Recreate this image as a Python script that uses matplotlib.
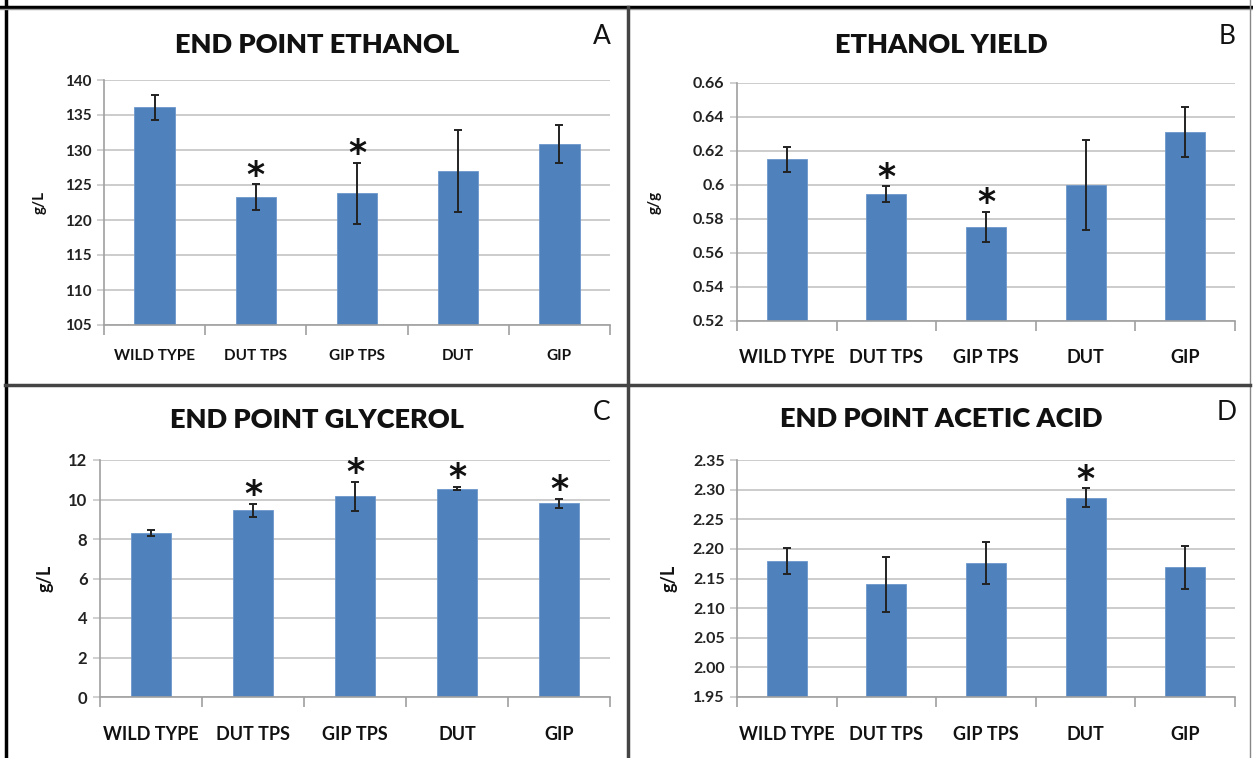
#!/usr/bin/env python3
"""Four-panel fermentation end point bar charts (ethanol, yield, glycerol, acetic acid)."""
import numpy as np
import matplotlib
matplotlib.use('Agg')
import matplotlib.pyplot as plt
from matplotlib.lines import Line2D

plt.rcParams['font.family'] = ['Lato', 'DejaVu Sans']

strains = ['WILD TYPE', 'DUT TPS', 'GIP TPS', 'DUT', 'GIP']

ethanol = [136.1, 123.3, 123.8, 127.0, 130.9]
ethanol_err = [1.8, 1.8, 4.4, 5.8, 2.7]
ethanol_sig = [False, True, True, False, False]

yield_gg = [0.615, 0.5945, 0.5755, 0.600, 0.631]
yield_err = [0.0072, 0.0047, 0.0089, 0.0262, 0.0147]
yield_sig = [False, True, True, False, False]

glycerol = [8.32, 9.46, 10.16, 10.55, 9.80]
glycerol_err = [0.15, 0.33, 0.75, 0.08, 0.23]
glycerol_sig = [False, True, True, True, True]

acetic = [2.180, 2.140, 2.176, 2.286, 2.169]
acetic_err = [0.022, 0.046, 0.036, 0.016, 0.036]
acetic_sig = [False, False, False, True, False]

BLUE = '#4F81BD'
GRID = '#C8C8C8'
AXIS = '#A0A0A0'

W, H = 1253, 758


def px_rect(left, top, right, bottom):
    return [left / W, 1 - bottom / H, (right - left) / W, (bottom - top) / H]


panels = [
    dict(vals=ethanol, err=ethanol_err, sig=ethanol_sig, title='END POINT ETHANOL', letter='A',
         ylabel='g/L', ylim=(105, 140), step=5, fmt='{:.0f}', rect=(104, 80, 610, 325),
         title_xy=(317, 45), letter_xy=(602, 37), ylabel_x=40, xfs=11, yfs=11, ylfs=11, xpad=17),
    dict(vals=yield_gg, err=yield_err, sig=yield_sig, title='ETHANOL YIELD', letter='B',
         ylabel='g/g', ylim=(0.52, 0.66), step=0.02, fmt='{:g}', rect=(737, 83, 1235, 321),
         title_xy=(941, 45), letter_xy=(1227, 37), ylabel_x=655, xfs=13, yfs=11.5, ylfs=11, xpad=20),
    dict(vals=glycerol, err=glycerol_err, sig=glycerol_sig, title='END POINT GLYCEROL', letter='C',
         ylabel='g/L', ylim=(0, 12), step=2, fmt='{:.0f}', rect=(100, 460, 610, 697),
         title_xy=(317, 420), letter_xy=(602, 413), ylabel_x=45, xfs=13, yfs=12, ylfs=13, xpad=21),
    dict(vals=acetic, err=acetic_err, sig=acetic_sig, title='END POINT ACETIC ACID', letter='D',
         ylabel='g/L', ylim=(1.95, 2.35), step=0.05, fmt='{:.2f}', rect=(737, 460, 1235, 697),
         title_xy=(941, 419), letter_xy=(1227, 413), ylabel_x=669, xfs=13, yfs=11.5, ylfs=13, xpad=21),
]

fig = plt.figure(figsize=(W / 100, H / 100), dpi=100)

for p in panels:
    ax = fig.add_axes(px_rect(*p['rect']))
    x = np.arange(len(strains))
    vals = np.array(p['vals'])
    err = np.array(p['err'])
    ax.set_axisbelow(True)
    ax.bar(x, vals, 0.4, color=BLUE, edgecolor='#6C97CC', linewidth=0.6)
    ax.errorbar(x, vals, yerr=err, fmt='none', ecolor='#222222', elinewidth=1.4,
                capsize=3, capthick=1.4)
    lo, hi = p['ylim']
    for i, s in enumerate(p['sig']):
        if s:
            ax.annotate('*', (x[i], vals[i] + err[i]), xytext=(0, -1), textcoords='offset points',
                        ha='center', va='baseline', fontsize=25, fontweight='bold',
                        family='DejaVu Sans', color='#111111')

    ax.set_xlim(-0.5, len(strains) - 0.5)
    ax.set_ylim(lo, hi)
    ticks = np.round(np.arange(lo, hi + p['step'] / 2, p['step']), 4)
    ax.set_yticks(ticks)
    ax.set_yticklabels([p['fmt'].format(t) for t in ticks], fontsize=p['yfs'],
                       fontweight='bold', color='#222222')
    ax.yaxis.grid(True, color=GRID, linewidth=1.3)
    ax.tick_params(axis='y', length=5, width=1.2, color=GRID, pad=4)

    ax.set_xticks(x)
    ax.set_xticklabels(strains, fontsize=p['xfs'], fontweight='bold', color='#111111')
    ax.set_xticks(np.arange(-0.5, len(strains)), minor=True)
    ax.tick_params(axis='x', which='major', length=0, pad=p['xpad'])
    ax.tick_params(axis='x', which='minor', length=7, width=1.2, color=AXIS)

    for side in ['top', 'right']:
        ax.spines[side].set_visible(False)
    for side in ['left', 'bottom']:
        ax.spines[side].set_color(AXIS)
        ax.spines[side].set_linewidth(1.2)

    tx, ty = p['title_xy']
    fig.text(tx / W, 1 - ty / H, p['title'], ha='center', va='center',
             fontsize=19.5, fontweight='heavy', color='#111111')
    lx, ly = p['letter_xy']
    fig.text(lx / W, 1 - ly / H, p['letter'], ha='center', va='center',
             fontsize=19, color='#111111')
    l, t, r, b = p['rect']
    fig.text(p['ylabel_x'] / W, 1 - (t + b) / 2 / H, p['ylabel'], ha='center', va='center',
             rotation=90, fontsize=p['ylfs'], fontweight='bold', color='#111111')

# panel frame lines
frame = [
    ((6, 6), (0, 758), 'black', 2.5),
    ((0, 1253), (7, 7), 'black', 2.5),
    ((0, 1253), (9, 9), '#999999', 1.0),
    ((1250, 1250), (0, 758), '#888888', 1.0),
    ((628, 628), (7, 758), '#444444', 2.5),
    ((5, 1250), (385, 385), '#444444', 2.5),
]
for xs, ys, c, lw in frame:
    fig.add_artist(Line2D([v / W for v in xs], [1 - v / H for v in ys], color=c, linewidth=lw))

fig.savefig('out.png', dpi=100)
plt.close()
